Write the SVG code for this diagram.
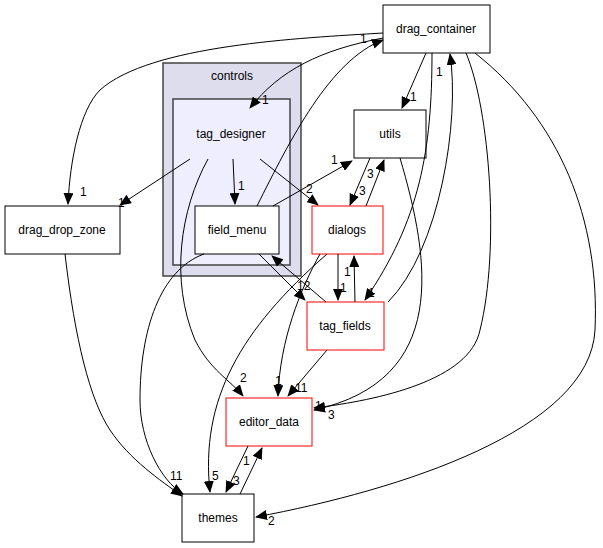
<svg xmlns="http://www.w3.org/2000/svg" width="603" height="548" viewBox="0 0 603 548">
<style>
text{font-family:"Liberation Sans",Arial,sans-serif;font-size:12px;fill:#000}
.n{fill:#fff;stroke:#000;stroke-width:1}
.r{fill:#fff;stroke:#ff0000;stroke-width:1}
.e path{fill:none;stroke:#000;stroke-width:1;marker-end:url(#a)}
.l{font-size:12px}
</style>
<defs><marker id="a" markerWidth="12" markerHeight="10" refX="11" refY="5" orient="auto" markerUnits="userSpaceOnUse"><path d="M0,0L12,5L0,10z" fill="#000"/></marker></defs>
<rect width="603" height="548" fill="#fff"/>
<g id="controls"><rect x="163" y="63" width="138" height="213" fill="#ddddee" stroke="#444" stroke-width="1.5"/><text x="232" y="80" text-anchor="middle">controls</text></g>
<g id="tag_designer"><rect x="173" y="99" width="117" height="166" fill="#eeeeff" stroke="#444" stroke-width="1.5"/><text x="231" y="138" text-anchor="middle">tag_designer</text></g>
<g id="field_menu"><rect class="n" x="195" y="206" width="84" height="48"/><text x="237" y="234" text-anchor="middle">field_menu</text></g>
<g id="dialogs"><rect class="r" x="312" y="206" width="71" height="48"/><text x="347" y="234" text-anchor="middle">dialogs</text></g>
<g id="utils"><rect class="n" x="354" y="110" width="72" height="48"/><text x="390" y="138" text-anchor="middle">utils</text></g>
<g id="drag_container"><rect class="n" x="383" y="5" width="107" height="48"/><text x="436" y="33" text-anchor="middle">drag_container</text></g>
<g id="drag_drop_zone"><rect class="n" x="5" y="206" width="115" height="48"/><text x="62" y="234" text-anchor="middle">drag_drop_zone</text></g>
<g id="tag_fields"><rect class="r" x="307" y="302" width="77" height="48"/><text x="345" y="330" text-anchor="middle">tag_fields</text></g>
<g id="editor_data"><rect class="r" x="226" y="398" width="86" height="48"/><text x="269" y="426" text-anchor="middle">editor_data</text></g>
<g id="themes"><rect class="n" x="182" y="494" width="72" height="48"/><text x="218" y="522" text-anchor="middle">themes</text></g>
<g class="e" id="edges">
<path d="M383,33C300,38 150,45 100,90C80,110 70,160 68,204"/>
<path d="M383,38C320,50 280,70 250,108"/>
<path d="M426,53L402,108"/>
<path d="M432,53C432,150 420,220 365,300"/>
<path d="M466,53C490,110 500,250 480,330C470,380 380,400 314,408"/>
<path d="M475,53C560,120 600,220 595,330C590,430 400,490 256,517"/>
<path d="M190,159L120,205"/>
<path d="M233,159L235,204"/>
<path d="M260,159L318,205"/>
<path d="M208,159C180,210 170,280 195,340C210,370 230,380 243,396"/>
<path d="M257,206C290,140 330,60 383,40"/>
<path d="M273,206L352,161"/>
<path d="M259,254L305,300"/>
<path d="M204,254C160,270 140,330 140,400C140,440 160,480 183,494"/>
<path d="M65,254C75,340 90,400 110,430C130,460 160,480 182,496"/>
<path d="M370,158L350,205"/>
<path d="M366,206L384,160"/>
<path d="M400,158C430,260 450,380 314,410"/>
<path d="M338,254L338,300"/>
<path d="M320,254C300,290 280,340 278,396"/>
<path d="M327,254C240,330 200,400 210,492"/>
<path d="M355,302L354,256"/>
<path d="M326,302L272,256"/>
<path d="M388,302C440,250 460,120 450,54"/>
<path d="M327,350L288,396"/>
<path d="M248,446L226,492"/>
<path d="M240,494L262,448"/>
</g>
<g id="labels" class="l">
<text x="360" y="43">1</text><text x="262" y="104">1</text><text x="410" y="101">1</text><text x="436" y="76">1</text>
<text x="80" y="196">1</text><text x="118" y="207">1</text><text x="238" y="190">1</text><text x="306" y="193">2</text>
<text x="331" y="164">1</text><text x="367" y="178">3</text><text x="359" y="195">3</text><text x="344" y="276">1</text><text x="340" y="292">1</text>
<text x="368" y="297">1</text><text x="297" y="290">12</text><text x="240" y="382">2</text><text x="275" y="385">1</text><text x="295" y="392">11</text>
<text x="315" y="410">1</text><text x="328" y="419">3</text><text x="243" y="465">1</text><text x="233" y="485">3</text>
<text x="212" y="480">5</text><text x="170" y="480">11</text><text x="268" y="525">2</text>
</g>
</svg>
